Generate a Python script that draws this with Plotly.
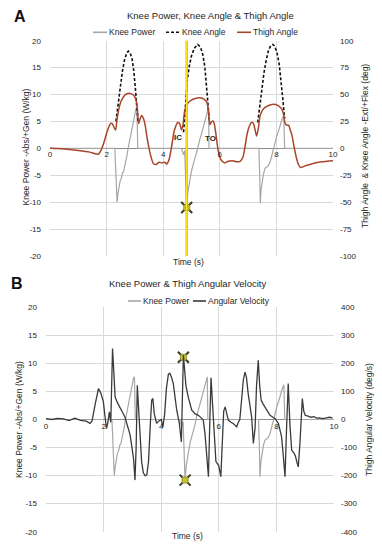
import plotly.graph_objects as go

# ---------------- data ----------------
power_t = [0, 1.0, 2.29, 2.33, 2.37, 2.40, 2.44, 2.48, 2.52, 2.56, 2.60, 2.66, 2.71, 2.76, 2.82, 2.88,
           2.94, 2.99, 3.04, 3.07, 3.09, 3.10, 4.0, 4.64, 4.68, 4.72, 4.76, 4.78, 4.83, 4.87, 4.91,
           4.96, 5.01, 5.06, 5.11, 5.17, 5.23, 5.29, 5.35, 5.41, 5.47, 5.53, 5.58, 5.60, 5.62, 6.5,
           7.38, 7.41, 7.43, 7.46, 7.50, 7.55, 7.60, 7.66, 7.72, 7.78, 7.84, 7.90, 7.96, 8.02, 8.08,
           8.14, 8.20, 8.26, 8.28, 8.29, 9.0, 10.0]
power_v = [0, 0, 0, -5, -10, -8.5, -7.2, -6.0, -5.6, -4.6, -4.3, -3.0, -1.6, 0, 1.8, 3.4,
           4.6, 6.1, 7.4, 7.6, 3.0, 0, 0, 0, -0.6, -1.2, -0.4, -3, -10.8, -8.2, -6.6,
           -5.4, -4.0, -3.2, -2.0, -1.0, 0.5, 1.6, 2.6, 3.8, 5.0, 6.1, 7.0, 7.6, 0, 0,
           0, -5, -10.2, -7.6, -6.0, -4.6, -3.7, -3.5, -3.2, -2.5, -1.2, 0.2, 1.2, 2.4, 3.3,
           4.5, 5.4, 6.2, 3.0, 0, 0, 0]

thigh_t = [0, 0.5, 1.0, 1.4, 1.71, 1.8, 1.9, 2.0, 2.08, 2.14, 2.2, 2.27, 2.32, 2.36, 2.42, 2.5,
           2.6, 2.7, 2.83, 2.95, 3.04, 3.09, 3.13, 3.18, 3.24, 3.30, 3.36, 3.43, 3.5, 3.57, 3.65,
           3.75, 3.85, 3.95, 4.05, 4.12, 4.2, 4.3, 4.38, 4.45, 4.51, 4.58, 4.65, 4.70, 4.76, 4.85,
           4.95, 5.1, 5.3, 5.45, 5.54, 5.60, 5.65, 5.70, 5.76, 5.81, 5.87, 5.93, 6.0, 6.07, 6.18,
           6.3, 6.45, 6.6, 6.72, 6.82, 6.9, 6.97, 7.05, 7.12, 7.18, 7.24, 7.3, 7.36, 7.42, 7.5,
           7.6, 7.75, 7.9, 8.05, 8.19, 8.25, 8.3, 8.36, 8.43, 8.48, 8.55, 8.62, 8.7, 8.78, 8.85,
           9.0, 9.3, 9.6, 10.0]
thigh_v = [0, -0.5, -2, -3.5, -5.5, -2, 5, 14, 20, 23, 23, 19, 17, 25, 35, 43,
           48, 50.5, 51, 49.5, 45, 36, 23, 27, 30.5, 28, 22, 10, 0, -8, -14,
           -15, -13, -13.5, -13, -14.5, -11, 2, 15, 21, 24, 23, 17, 22, 35, 41,
           44, 46, 47, 45.5, 43, 35, 22, 24.5, 25.5, 22, 12, 0, -8, -11.5, -13.5,
           -12, -11.5, -12.5, -12, -8, 3, 14, 21, 24, 23.5, 18, 11.5, 18, 30, 35,
           38, 40, 41, 40, 36.5, 32, 24, 21.5, 21.5, 18, 12, 2, -8, -15, -17.8,
           -16.5, -14, -12.5, -11.5]

knee_t = [2.33, 2.40, 2.48, 2.56, 2.64, 2.72, 2.77, 2.83, 2.90, 2.96, 3.02, 3.07, 3.11, None,
          4.72, 4.76, 4.80, 4.85, 4.92, 5.00, 5.10, 5.22, 5.32, 5.40, 5.47, 5.53, 5.58, 5.62, None,
          7.34, 7.40, 7.48, 7.56, 7.64, 7.72, 7.80, 7.87, 7.94, 8.02, 8.10, 8.17, 8.23, 8.28, 8.30]
knee_v = [25, 40, 58, 72, 83, 89, 90.3, 89, 83, 72, 55, 38, 24, None,
          15, 30, 48, 63, 76, 86, 93, 96.5, 94, 87, 76, 60, 42, 27, None,
          24, 38, 55, 70, 82, 91, 95.5, 96.5, 95, 89, 78, 62, 45, 30, 28]

angvel_t = [0, 0.2, 0.4, 0.6, 0.8, 1.0, 1.2, 1.4, 1.53, 1.6, 1.7, 1.82, 1.9, 1.99, 2.05, 2.1,
            2.15, 2.2, 2.25, 2.31, 2.36, 2.4, 2.48, 2.57, 2.66, 2.74, 2.83, 2.92, 2.98, 3.04,
            3.09, 3.13, 3.17, 3.21, 3.26, 3.32, 3.38, 3.44, 3.5, 3.56, 3.62, 3.67, 3.71, 3.76,
            3.84, 3.92, 4.0, 4.06, 4.12, 4.18, 4.25, 4.3, 4.36, 4.42, 4.48, 4.54, 4.63, 4.7,
            4.77, 4.82, 4.86, 4.94, 5.06, 5.18, 5.29, 5.4, 5.46, 5.52, 5.58, 5.64, 5.68, 5.73,
            5.78, 5.84, 5.9, 5.95, 6.0, 6.07, 6.12, 6.17, 6.22, 6.28, 6.33, 6.42, 6.5, 6.56,
            6.62, 6.68, 6.73, 6.8, 6.85, 6.91, 6.96, 7.02, 7.08, 7.14, 7.2, 7.26, 7.31, 7.37,
            7.42, 7.47, 7.54, 7.6, 7.7, 7.78, 7.88, 7.95, 8.07, 8.13, 8.18, 8.24, 8.3, 8.35,
            8.41, 8.47, 8.53, 8.6, 8.66, 8.72, 8.76, 8.82, 8.87, 8.9, 8.95, 9.0, 9.1, 9.2, 9.3,
            9.4, 9.5, 9.6, 9.7, 9.84, 9.95]
angvel_v = [3, 0, 4, 2, -4, 5, -3, -6, -14, -5, 50, 110, 95, 65, 10, -32,
            -10, 27, -10, 253, 160, 80, 60, 45, 25, 9, -25, -55, -97, -140,
            -216, -100, 122, 60, -40, -150, -190, -200, -198, -150, -20, 69, 75, 20,
            -14, -5, 0, -26, 20, 110, 162, 165, 150, 128, 80, 33, -14, -80,
            229, 170, 120, 80, 33, 20, 15, 5, -2, -50, -120, -204, -40, 149,
            60, -60, -150, -157, -165, -204, -60, 30, 45, 15, -2, -10, -14, -20,
            -26, -10, 0, 80, 140, 169, 150, 92, 50, 9, -85, -30, 120, 211,
            120, 69, 55, 45, 28, 15, 8, 4, -14, -35, -62, -130, -204, -40,
            128, -20, -109, -118, -130, -155, -169, -80, 30, 75, 30, 15, 12, 8, 10,
            5, 6, 3, 5, 8, 6]

# event markers (initial contact) and labels
ic_time = 4.83
markerA_t = [4.83]
markerA_v = [-11.0]
markerB_t = [4.77, 4.83]
markerB_v = [11.1, -10.8]
event_labels = ["IC", "TO"]
event_label_t = [4.53, 5.68]
event_label_v = [0.9, 0.7]

x_ticks = [0, 2, 4, 6, 8, 10]
x_ticktext = ["0", "2", "4", "6", "8", "10"]
pow_ticks = [20, 15, 10, 5, 0, -5, -10, -15, -20]
pow_ticktext = ["20", "15", "10", "5", "0", "-5", "-10", "-15", "-20"]
ang_ticks = [100, 75, 50, 25, 0, -25, -50, -75, -100]
ang_ticktext = ["100", "75", "50", "25", "0", "-25", "-50", "-75", "-100"]
vel_ticks = [400, 300, 200, 100, 0, -100, -200, -300, -400]
vel_ticktext = ["400", "300", "200", "100", "0", "-100", "-200", "-300", "-400"]

# ---------------- style ----------------
VIEW_W, VIEW_H = 382, 550
OFF = 8                      # default page margin of the html body
W, H = VIEW_W - OFF, VIEW_H - OFF
FONT = "Liberation Sans, Arial, sans-serif"
GRID = "#d9d9d9"
C_POW = "#a6a6a6"
C_KNEE = "#111111"
C_THIGH = "#a8442a"
C_VEL = "#3a3a3a"
TXT = "#262626"


def px_x(p):
    return (p - OFF) / W


def px_y(p):
    return (H - (p - OFF)) / H


xA = [px_x(50), px_x(333)]
yA = [px_y(256), px_y(40.7)]
xB = [px_x(46), px_x(334)]
yB = [px_y(531.7), px_y(307.3)]

fig = go.Figure()

star_outer = dict(symbol="x-thin", size=11, line=dict(color="#3b3b22", width=2))
star_inner = dict(symbol="square", size=6, color="#c9c22a", line=dict(color="#6b6a20", width=0.6))

# Panel A
fig.add_trace(go.Scatter(x=power_t, y=power_v, mode="lines", line=dict(color=C_POW, width=1.2),
                         xaxis="x", yaxis="y", hoverinfo="skip"))
fig.add_trace(go.Scatter(x=knee_t, y=knee_v, mode="lines", connectgaps=False,
                         line=dict(color=C_KNEE, width=1.6, dash="3px,2px"),
                         xaxis="x", yaxis="y2", hoverinfo="skip"))
fig.add_trace(go.Scatter(x=thigh_t, y=thigh_v, mode="lines",
                         line=dict(color=C_THIGH, width=1.5, shape="spline", smoothing=0.6),
                         xaxis="x", yaxis="y2", hoverinfo="skip"))

# Panel B
fig.add_trace(go.Scatter(x=power_t, y=power_v, mode="lines", line=dict(color=C_POW, width=1.2),
                         xaxis="x2", yaxis="y3", hoverinfo="skip"))
fig.add_trace(go.Scatter(x=angvel_t, y=angvel_v, mode="lines", line=dict(color=C_VEL, width=1.3),
                         xaxis="x2", yaxis="y4", hoverinfo="skip"))

tickfont = dict(family=FONT, size=8, color=TXT)
xcommon = dict(range=[0, 10], tickvals=x_ticks, ticktext=x_ticktext, showgrid=True, gridcolor=GRID,
               gridwidth=1, zeroline=False, showline=False, ticks="", tickfont=tickfont,
               anchor="free", fixedrange=True, automargin=False)
ycommon = dict(range=[-20, 20], tickvals=pow_ticks, ticktext=pow_ticktext, showgrid=True,
               gridcolor=GRID, gridwidth=1, zeroline=True, zerolinecolor="#8c8c8c", zerolinewidth=1.2,
               ticks="", tickfont=tickfont, ticklabelstandoff=8, showline=False, automargin=False)
yright = dict(showgrid=False, zeroline=False, ticks="", tickfont=tickfont, ticklabelstandoff=6,
              showline=False, side="right", automargin=False)

fig.update_layout(
    width=W, height=H, margin=dict(l=0, r=0, t=0, b=0),
    paper_bgcolor="white", plot_bgcolor="white", showlegend=False,
    font=dict(family=FONT, color=TXT),
    xaxis=dict(domain=xA, position=(yA[0] + yA[1]) / 2, **xcommon),
    yaxis=dict(domain=yA, anchor="x", **ycommon),
    yaxis2=dict(domain=yA, anchor="x", overlaying="y", range=[-100, 100], tickvals=ang_ticks,
                ticktext=ang_ticktext, **yright),
    xaxis2=dict(domain=xB, position=(yB[0] + yB[1]) / 2, **xcommon),
    yaxis3=dict(domain=yB, anchor="x2", **ycommon),
    yaxis4=dict(domain=yB, anchor="x2", overlaying="y3", range=[-400, 400], tickvals=vel_ticks,
                ticktext=vel_ticktext, **yright),
)

# initial-contact vertical line in panel A
fig.add_shape(type="line", xref="x", yref="y domain", x0=ic_time, x1=ic_time, y0=0, y1=1,
              line=dict(color="#f0921c", width=2.2), layer="above")
fig.add_shape(type="line", xref="x", yref="y domain", x0=ic_time, x1=ic_time, y0=0, y1=1,
              line=dict(color="#ffe81a", width=1.2), layer="above")

# event star markers (drawn above the vertical line)
for xs, ys, xa, ya in [(markerA_t, markerA_v, "x", "y2"), (markerB_t, markerB_v, "x2", "y4")]:
    pass
fig.add_trace(go.Scatter(x=markerA_t, y=markerA_v, mode="markers", marker=star_outer,
                         xaxis="x", yaxis="y", hoverinfo="skip"))
fig.add_trace(go.Scatter(x=markerA_t, y=markerA_v, mode="markers", marker=star_inner,
                         xaxis="x", yaxis="y", hoverinfo="skip"))
fig.add_trace(go.Scatter(x=markerB_t, y=markerB_v, mode="markers", marker=star_outer,
                         xaxis="x2", yaxis="y3", hoverinfo="skip"))
fig.add_trace(go.Scatter(x=markerB_t, y=markerB_v, mode="markers", marker=star_inner,
                         xaxis="x2", yaxis="y3", hoverinfo="skip"))

ann = []


def add_text(text, x, y, size=8.5, angle=0, xanchor="center", bold=False, color=TXT):
    ann.append(dict(text=("<b>%s</b>" % text) if bold else text, x=px_x(x), y=px_y(y),
                    xref="paper", yref="paper", showarrow=False, textangle=angle,
                    xanchor=xanchor, yanchor="middle", borderpad=0,
                    font=dict(size=size, family=FONT, color=color)))


# panel letters and titles
add_text("A", 20, 16, size=16, bold=True, color="#111")
add_text("B", 16.5, 283, size=16, bold=True, color="#111")
add_text("Knee Power, Knee Angle &amp; Thigh Angle", 211, 15, size=9.5)
add_text("Knee Power &amp; Thigh Angular Velocity", 187, 283.5, size=9.5)
# axis titles
add_text("Knee Power -Abs/+Gen (W/kg)", 25, 147.5, angle=-90)
add_text("Thigh Angle  &amp; Knee Angle -Ext/+Flex (deg)", 365, 146, angle=-90)
add_text("Knee Power -Abs/+Gen (W/kg)", 18.5, 419.5, angle=-90)
add_text("Thigh Angular Velocity (deg/s)", 368.5, 419.5, angle=-90)
add_text("Time (s)", 188, 262)
add_text("Time (s)", 187, 536)

# event labels (IC / TO)
for lab, t, v in zip(event_labels, event_label_t, event_label_v):
    ann.append(dict(text="<b>%s</b>" % lab, x=t, y=v, xref="x", yref="y", showarrow=False,
                    xanchor="center", yanchor="bottom", font=dict(size=8, family=FONT, color="#222")))

# legends (sample line + label)
legendA = [("Knee Power", C_POW, "solid", 93, 107), ("Knee Angle", C_KNEE, "3px,2px", 166, 180),
           ("Thigh Angle", C_THIGH, "solid", 237, 251)]
legendB = [("Knee Power", C_POW, "solid", 128, 141), ("Angular Velocity", C_VEL, "solid", 193, 206)]
for items, ly in [(legendA, 32.3), (legendB, 301)]:
    for name, col, dash, x0, x1 in items:
        fig.add_shape(type="line", xref="paper", yref="paper", x0=px_x(x0), x1=px_x(x1),
                      y0=px_y(ly), y1=px_y(ly), line=dict(color=col, width=1.6, dash=dash))
        add_text(name, x1 + 1, ly, size=8.5, xanchor="left")

fig.update_layout(annotations=ann)
fig.write_html("out.html")
